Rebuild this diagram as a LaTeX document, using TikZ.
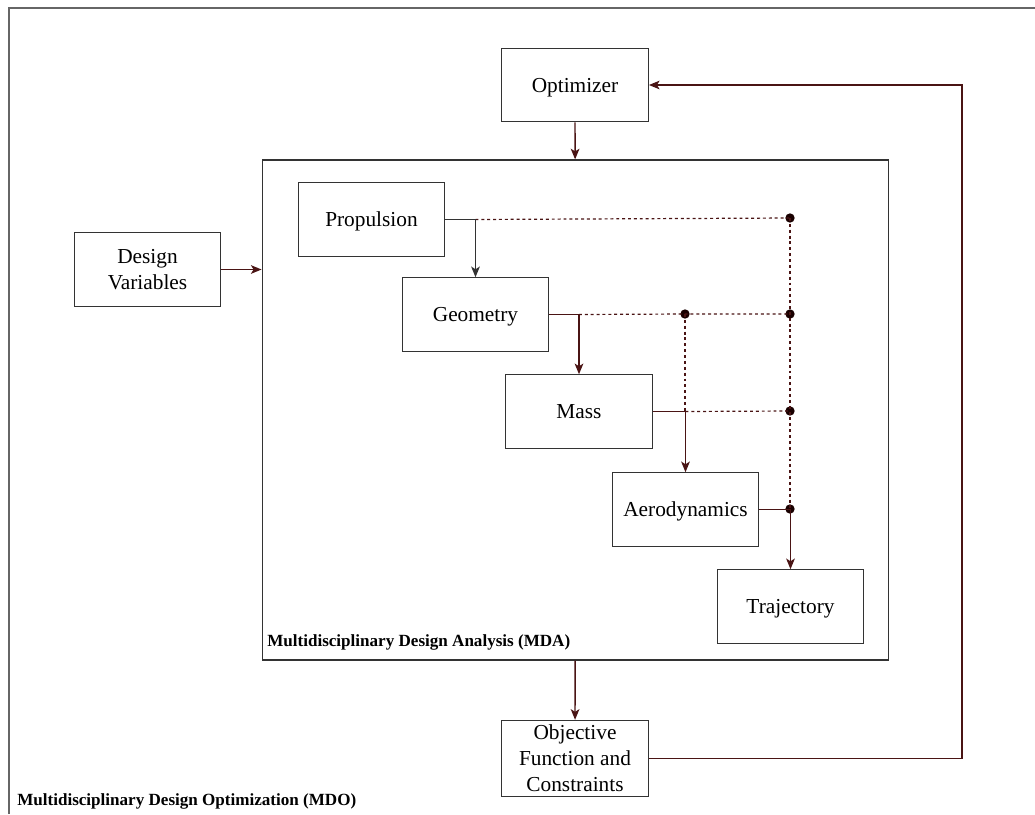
\documentclass[tikz,border=0pt]{standalone}
\usepackage{xcolor}
\usepackage{fontspec}
\setmainfont{Liberation Serif}
\usepackage{tikz}
\usetikzlibrary{arrows.meta}

\definecolor{wire}{HTML}{4A1414}
\definecolor{frame}{HTML}{333333}

\begin{document}
\begin{tikzpicture}[x=0.75pt,y=-0.75pt,>={Stealth[length=8pt,width=6.5pt,inset=2pt]},
	box/.style={rectangle,draw=frame,line width=0.9pt,minimum width=110pt,minimum height=55pt,align=center,font=\fontsize{16}{19.5}\selectfont},
	link/.style={->,wire,line width=1pt},
	share/.style={wire,line width=0.9pt,dash pattern=on 2.2pt off 2.2pt},
	dot/.style={circle,fill=black!90!red,inner sep=0pt,minimum size=7pt},
	tag/.style={font=\fontsize{12.8}{14}\selectfont\bfseries,anchor=base west,inner sep=0pt}]
	\useasboundingbox (0,0) rectangle (1035,814);
	\draw[gray!80!black,line width=1.4pt] (9,814) |- (1035,8);

	\node[rectangle,draw=frame,line width=0.9pt,minimum width=470pt,minimum height=375pt] (mda) at (575.5,410) {};
	\node[box,text depth=0pt] (opt) at (575,85) {Optimizer};
	\node[box] (dv) at (147.5,269.5) {Design\\Variables};
	\node[box,text depth=0pt] (prop) at (371.5,219.5) {Propulsion};
	\node[box,text depth=0pt] (geom) at (475.5,314.5) {Geometry};
	\node[box,text depth=0pt] (mass) at (579,411.5) {Mass};
	\node[box,text depth=0pt] (aero) at (685.5,509.5) {Aerodynamics};
	\node[box,text depth=0pt] (traj) at (790.5,606.5) {Trajectory};
	\node[box,line width=1.1pt] (obj) at (575,758.5) {Objective\\Function and\\Constraints};
	\node[tag] (mdalbl) at (267,646) {Multidisciplinary Design Analysis (MDA)};
	\node[tag] (mdolbl) at (17,805) {Multidisciplinary Design Optimization (MDO)};

	\node[dot] (d1) at (790,218) {};
	\node[dot] (d2) at (685,314) {};
	\node[dot] (d3) at (790,314) {};
	\node[dot] (d4) at (790,411) {};
	\node[dot] (d5) at (790,509) {};
	\coordinate (turn) at (962,85);

\draw[link] (opt) -- (mda);
\draw[link] (dv) -- (mda.west |- dv.east);
\draw[link] (mda) -- (obj);
\draw[link] (obj.east) -| (turn) -- (opt.east);

\draw[share] (geom.north |- prop.east) -- (d1.center);
\draw[share] (mass.north |- geom.east) -- (d2.center) -- (d3.center);
\draw[share] (d2.center) -- (d2.center |- mass.east);
\draw[share] (aero.north |- mass.east) -- (d4.center);
\draw[share] (d1.center) -- (d5.center);

\draw[->,black!80,line width=1pt] (prop.east) -| (geom.north);
\draw[link] (geom.east) -| (mass.north);
\draw[link] (mass.east) -| (aero.north);
\draw[link] (aero.east) -| (traj.north);
\end{tikzpicture}
\end{document}
